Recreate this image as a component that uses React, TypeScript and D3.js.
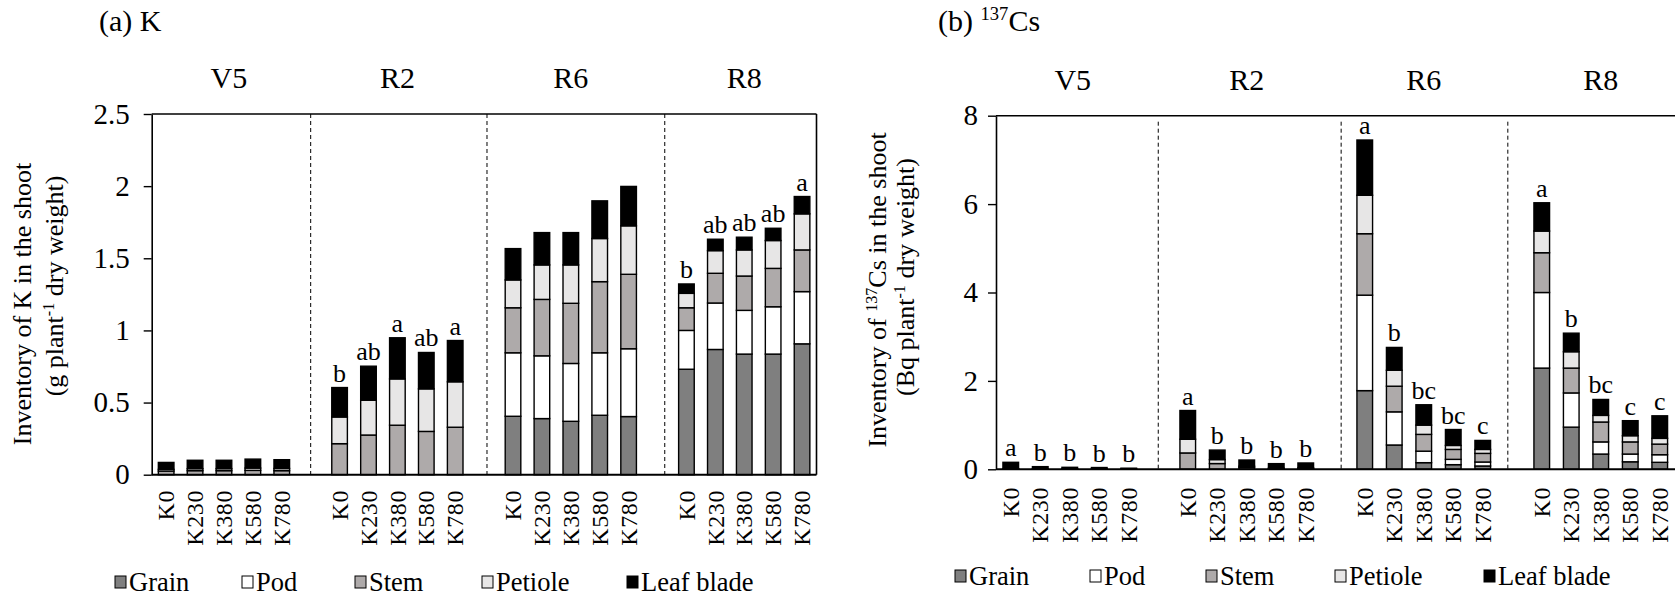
import { useEffect, useRef } from "react"
import * as d3 from "d3"

const stages = ["V5", "R2", "R6", "R8"]
const treatments = ["K0", "K230", "K380", "K580", "K780"]
const parts = ["Grain", "Pod", "Stem", "Petiole", "Leaf blade"]
const partColors = ["#7f7f7f", "#ffffff", "#aeaaaa", "#e7e6e6", "#000000"]

// (a) K inventory, g plant-1 — order: V5 x5, R2 x5, R6 x5, R8 x5
const kGrain = [0, 0, 0, 0, 0, 0, 0, 0, 0, 0, 0.405, 0.389, 0.37, 0.412, 0.403, 0.731, 0.868, 0.836, 0.836, 0.907]
const kPod = [0, 0, 0, 0, 0, 0, 0, 0, 0, 0, 0.44, 0.435, 0.401, 0.433, 0.47, 0.269, 0.322, 0.303, 0.328, 0.362]
const kStem = [0.025, 0.028, 0.028, 0.03, 0.028, 0.215, 0.275, 0.343, 0.3, 0.329, 0.312, 0.391, 0.417, 0.493, 0.516, 0.157, 0.206, 0.238, 0.266, 0.289]
const kPetiole = [0.012, 0.014, 0.014, 0.016, 0.015, 0.185, 0.241, 0.321, 0.295, 0.315, 0.193, 0.239, 0.266, 0.299, 0.336, 0.1, 0.157, 0.181, 0.193, 0.25]
const kLeaf = [0.048, 0.058, 0.058, 0.062, 0.061, 0.204, 0.236, 0.285, 0.252, 0.286, 0.217, 0.224, 0.224, 0.261, 0.273, 0.065, 0.079, 0.088, 0.085, 0.12]
const kLetters = ["", "", "", "", "", "b", "ab", "a", "ab", "a", "", "", "", "", "", "b", "ab", "ab", "ab", "a"]

// (b) 137Cs inventory, Bq plant-1
const csGrain = [0, 0, 0, 0, 0, 0, 0, 0, 0, 0, 1.78, 0.55, 0.15, 0.105, 0.075, 2.29, 0.954, 0.345, 0.17, 0.158]
const csPod = [0, 0, 0, 0, 0, 0, 0, 0, 0, 0, 2.16, 0.75, 0.26, 0.12, 0.09, 1.71, 0.774, 0.275, 0.175, 0.172]
const csStem = [0.01, 0.005, 0.005, 0.004, 0.003, 0.37, 0.13, 0.04, 0.015, 0.02, 1.39, 0.58, 0.38, 0.225, 0.195, 0.9, 0.562, 0.45, 0.275, 0.24]
const csPetiole = [0.005, 0.003, 0.003, 0.003, 0.002, 0.31, 0.09, 0.03, 0.01, 0.01, 0.87, 0.36, 0.21, 0.09, 0.09, 0.49, 0.37, 0.15, 0.14, 0.13]
const csLeaf = [0.143, 0.052, 0.037, 0.033, 0.02, 0.65, 0.215, 0.14, 0.103, 0.113, 1.25, 0.517, 0.46, 0.36, 0.203, 0.64, 0.42, 0.36, 0.34, 0.51]
const csLetters = ["a", "b", "b", "b", "b", "a", "b", "b", "b", "b", "a", "b", "bc", "bc", "c", "a", "b", "bc", "c", "c"]

const kTicks = [0, 0.5, 1, 1.5, 2, 2.5]
const csTicks = [0, 2, 4, 6, 8]

const FONT = "'Liberation Serif', 'Times New Roman', serif"

type Piece = { t: string; sup?: boolean }

function rich(sel, pieces: Piece[], size: number) {
  let wasSup = false
  pieces.forEach((p) => {
    const ts = sel.append("tspan").text(p.t)
    if (p.sup) {
      ts.attr("font-size", size * 0.62).attr("dy", -size * 0.36)
      wasSup = true
    } else if (wasSup) {
      ts.attr("dy", size * 0.36)
      wasSup = false
    }
  })
}

function drawPanel(svg, cfg) {
  const { left, right, top, bottom } = cfg

  // slots: 5 bars per stage, one empty slot between stages
  const slots: string[] = []
  stages.forEach((s, si) => {
    treatments.forEach((t) => slots.push(`${s}|${t}`))
    if (si < stages.length - 1) slots.push(`gap${si}`)
  })
  const barKeys = slots.filter((k) => !k.startsWith("gap"))

  const x = d3.scaleBand().domain(slots).range([left, right]).paddingInner(cfg.pad).paddingOuter(cfg.pad / 2)
  const y = d3.scaleLinear().domain([0, cfg.yMax]).range([bottom, top])

  const rows = barKeys.map((key, i) => {
    const r: any = { key }
    parts.forEach((p, j) => (r[p] = cfg.series[j][i]))
    return r
  })
  const stacked = d3.stack().keys(parts)(rows)

  const g = svg.append("g")

  // stage separators
  cfg.sepSlots.forEach((u) => {
    const sx = left + x.step() * u
    g.append("line")
      .attr("x1", sx).attr("x2", sx)
      .attr("y1", top + cfg.sepTopGap).attr("y2", bottom)
      .attr("stroke", "#000").attr("stroke-width", 1).attr("stroke-dasharray", "4,3")
  })

  // bars
  stacked.forEach((layer, j) => {
    g.append("g")
      .selectAll("rect")
      .data(layer.filter((d) => d[1] - d[0] > 0))
      .join("rect")
      .attr("x", (d) => x(d.data.key))
      .attr("width", x.bandwidth())
      .attr("y", (d) => y(d[1]))
      .attr("height", (d) => y(d[0]) - y(d[1]))
      .attr("fill", partColors[j])
      .attr("stroke", "#000")
      .attr("stroke-width", 1.4)
  })

  // significance letters
  const totals = rows.map((r) => d3.sum(parts, (p) => r[p]))
  g.append("g")
    .selectAll("text")
    .data(barKeys)
    .join("text")
    .attr("x", (k) => x(k) + x.bandwidth() / 2)
    .attr("y", (k, i) => y(totals[i]) - 6)
    .attr("text-anchor", "middle")
    .attr("font-family", FONT)
    .attr("font-size", 26)
    .text((k, i) => cfg.letters[i])

  // frame
  g.append("line").attr("x1", left).attr("x2", cfg.topEnd).attr("y1", top).attr("y2", top)
    .attr("stroke", "#000").attr("stroke-width", 1.6)
  if (cfg.rightBorder) {
    g.append("line").attr("x1", right).attr("x2", right).attr("y1", top).attr("y2", bottom)
      .attr("stroke", "#000").attr("stroke-width", 1.6)
  }
  g.append("line").attr("x1", left).attr("x2", cfg.topEnd).attr("y1", bottom).attr("y2", bottom)
    .attr("stroke", "#000").attr("stroke-width", 2)

  // y axis
  const ax = g.append("g")
    .attr("transform", `translate(${left},0)`)
    .call(d3.axisLeft(y).tickValues(cfg.ticks).tickSize(8).tickSizeOuter(0).tickPadding(cfg.tickPad).tickFormat((d) => String(d)))
  ax.select(".domain").attr("stroke-width", 1.6)
  ax.selectAll(".tick line").attr("stroke-width", 1.4)
  ax.selectAll("text").attr("font-family", FONT).attr("font-size", 29).attr("fill", "#000")

  // x tick labels
  g.append("g")
    .selectAll("text")
    .data(barKeys)
    .join("text")
    .attr("transform", (k) => `translate(${x(k) + x.bandwidth() / 2},${cfg.xLabelTop}) rotate(-90)`)
    .attr("dy", "0.34em")
    .attr("text-anchor", "end")
    .attr("font-family", FONT)
    .attr("font-size", 24)
    .attr("letter-spacing", 0.6)
    .text((k) => k.split("|")[1])

  // stage labels
  stages.forEach((s, si) => {
    const first = x(`${s}|${treatments[0]}`)
    const last = x(`${s}|${treatments[treatments.length - 1]}`) + x.bandwidth()
    g.append("text")
      .attr("x", (first + last) / 2 + cfg.stageShift[si])
      .attr("y", cfg.stageY)
      .attr("text-anchor", "middle")
      .attr("font-family", FONT)
      .attr("font-size", 30)
      .text(s)
  })

  // panel title
  const tt = g.append("text").attr("x", cfg.titleX).attr("y", 31).attr("font-family", FONT).attr("font-size", 30)
  rich(tt, cfg.title, 30)

  // y axis title (two lines)
  cfg.yLabel.forEach((line, li) => {
    const t = g.append("text")
      .attr("transform", `translate(${cfg.yLabelX[li]},${cfg.yLabelCy[li]}) rotate(-90)`)
      .attr("text-anchor", "middle")
      .attr("font-family", FONT)
      .attr("font-size", 26)
    rich(t, line, 26)
  })

  // legend
  parts.forEach((p, j) => {
    const lx = cfg.legendX[j]
    g.append("rect")
      .attr("x", lx).attr("y", cfg.legendY - 6)
      .attr("width", 11).attr("height", 12)
      .attr("fill", partColors[j]).attr("stroke", "#000").attr("stroke-width", 1)
    g.append("text")
      .attr("x", lx + 14).attr("y", cfg.legendY + 9)
      .attr("font-family", FONT).attr("font-size", 26.5)
      .text(p)
  })
}

export default function App() {
  const ref = useRef<SVGSVGElement>(null)

  useEffect(() => {
    const svg = d3.select(ref.current)
    svg.selectAll("*").remove()

    drawPanel(svg, {
      left: 151.7, right: 816.5, top: 114, bottom: 474.7, topEnd: 816.5, rightBorder: true,
      pad: 0.46, yMax: 2.5, ticks: kTicks, tickPad: 14,
      series: [kGrain, kPod, kStem, kPetiole, kLeaf], letters: kLetters,
      sepSlots: [5.5, 11.6, 17.75], sepTopGap: 0,
      xLabelTop: 490, stageY: 88, stageShift: [5, 0, 0, 0], titleX: 99,
      title: [{ t: "(a) K" }],
      yLabel: [
        [{ t: "Inventory of K in the shoot" }],
        [{ t: "(g plant" }, { t: "-1", sup: true }, { t: " dry weight)" }],
      ],
      yLabelX: [31, 63], yLabelCy: [304, 286],
      legendX: [115, 242, 355, 482, 627], legendY: 582,
    })

    drawPanel(svg, {
      left: 996, right: 1674.5, top: 115.7, bottom: 469.3, topEnd: 1675, rightBorder: false,
      pad: 0.47, yMax: 8, ticks: csTicks, tickPad: 10,
      series: [csGrain, csPod, csStem, csPetiole, csLeaf], letters: csLetters,
      sepSlots: [5.5, 11.7, 17.35], sepTopGap: 6,
      xLabelTop: 487, stageY: 90, stageShift: [3, 0, 0, 0], titleX: 938,
      title: [{ t: "(b) " }, { t: "137", sup: true }, { t: "Cs" }],
      yLabel: [
        [{ t: "Inventory of " }, { t: "137", sup: true }, { t: "Cs in the shoot" }],
        [{ t: "(Bq plant" }, { t: "-1", sup: true }, { t: " dry weight)" }],
      ],
      yLabelX: [886, 914], yLabelCy: [290, 277],
      legendX: [955, 1090, 1206, 1335, 1484], legendY: 576,
    })
  }, [])

  return (
    <svg
      ref={ref}
      width={1675}
      height={596}
      style={{ position: "absolute", left: 0, top: 0, background: "#fff" }}
    />
  )
}
